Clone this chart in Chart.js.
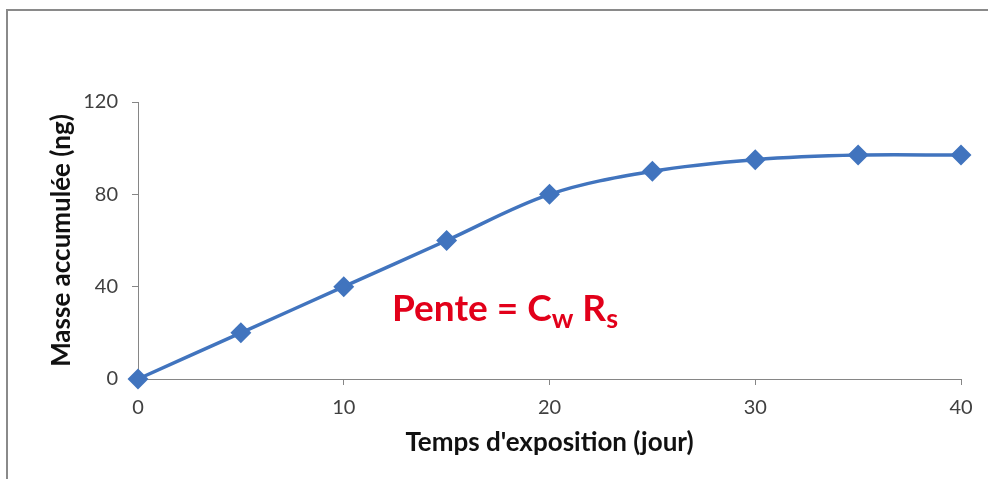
<!DOCTYPE html>
<html>
<head>
<meta charset="utf-8">
<script src="https://cdn.jsdelivr.net/npm/chart.js@4/dist/chart.umd.min.js"></script>
<style>
    html, body { margin: 0; padding: 0; background: #fff; overflow: hidden; }
    #wrap { position: relative; width: 988px; height: 479px; }
    #cadre {
        position: absolute; left: 6px; top: 9px; width: 1000px; height: 500px;
        border-left: 2px solid #8a8a8a; border-top: 2px solid #8a8a8a;
        pointer-events: none;
    }
    #pente {
        position: absolute; left: 392px; top: 288px;
        font-family: Lato, 'Open Sans', sans-serif; font-weight: bold;
        font-size: 37px; color: #e2001a; white-space: nowrap; line-height: 1;
    }
    #pente sub { font-size: 27px; vertical-align: -7px; }
</style>
</head>
<body>
<div id="wrap">
    <canvas id="grafico" width="988" height="479"></canvas>
    <div id="cadre"></div>
    <div id="pente">Pente = C<sub>w</sub> R<sub>s</sub></div>
</div>
<script>
const joursExposition = [0, 5, 10, 15, 20, 25, 30, 35, 40];
const masseAccumulee = [0, 20, 40, 60, 80, 90, 95, 97, 97];
const ticksX = [0, 10, 20, 30, 40];
const ticksY = [0, 40, 80, 120];

const bleu = '#4174be';
const gris = '#868686';
const police = 'Lato, "Open Sans", sans-serif';

const ctx = document.getElementById('grafico').getContext('2d');

new Chart(ctx, {
    type: 'scatter',
    data: {
        datasets: [{
            label: 'Masse accumulée',
            data: joursExposition.map((x, i) => ({ x: x, y: masseAccumulee[i] })),
            showLine: true,
            borderColor: bleu,
            backgroundColor: bleu,
            borderWidth: 3.5,
            tension: 0.35,
            pointStyle: 'rectRot',
            pointRadius: 8,
            pointHoverRadius: 8,
            clip: false
        }]
    },
    options: {
        responsive: false,
        animation: false,
        layout: { padding: { top: 102, right: 27, left: 0, bottom: 0 } },
        plugins: {
            legend: { display: false },
            tooltip: { enabled: false }
        },
        scales: {
            x: {
                type: 'linear',
                min: 0,
                max: 40,
                afterBuildTicks: (s) => { s.ticks = ticksX.map(v => ({ value: v })); },
                afterFit: (s) => { s.height = 100; },
                grid: { drawOnChartArea: false, color: gris, tickLength: 6 },
                border: { color: gris },
                ticks: { color: '#404040', font: { family: police, size: 20 }, padding: 11 },
                title: {
                    display: true,
                    text: "Temps d'exposition (jour)",
                    color: '#111',
                    font: { family: police, size: 26, weight: 'bold' },
                    padding: { top: 0, bottom: 21 }
                }
            },
            y: {
                min: 0,
                max: 120,
                afterBuildTicks: (s) => { s.ticks = ticksY.map(v => ({ value: v })); },
                afterFit: (s) => { s.width = 138; },
                grid: { drawOnChartArea: false, color: gris, tickLength: 6 },
                border: { color: gris },
                ticks: { color: '#404040', font: { family: police, size: 20 }, padding: 14 },
                title: {
                    display: true,
                    text: 'Masse accumulée (ng)',
                    color: '#111',
                    font: { family: police, size: 26, weight: 'bold' },
                    padding: { top: 46, bottom: 0 }
                }
            }
        }
    }
});
</script>
</body>
</html>
